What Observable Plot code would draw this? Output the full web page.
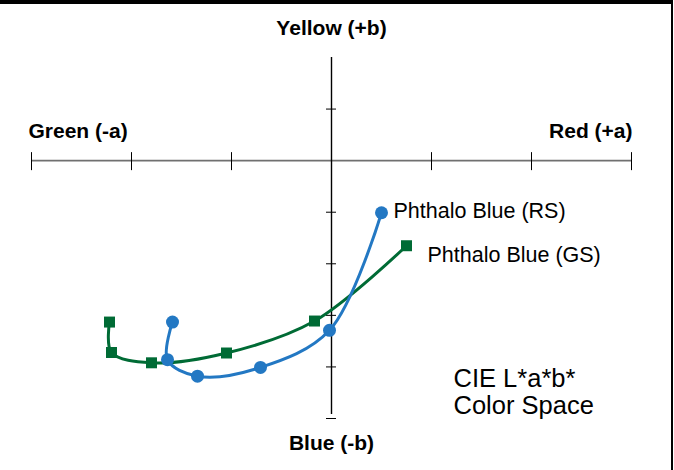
<!DOCTYPE html>
<html>
<head>
<meta charset="utf-8">
<script src="https://cdn.jsdelivr.net/npm/d3@7"></script>
<script src="https://cdn.jsdelivr.net/npm/@observablehq/plot@0.6"></script>
<style>
  html, body { margin: 0; padding: 0; background: #fff; }
  #wrap { position: relative; width: 674px; height: 470px; overflow: hidden; }
  #frame { position: absolute; left: 0; top: 0; width: 673px; height: 470px; box-sizing: border-box;
           border-top: 4px solid #000; border-right: 2px solid #000; pointer-events: none; }
  #chart { position: absolute; left: 0; top: 0; }
</style>
</head>
<body>
<div id="wrap"><div id="chart"></div><div id="frame"></div></div>
<script>
// a* (green-red) and b* (blue-yellow) values, in axis units
const seriesNames = ["Phthalo Blue (RS)", "Phthalo Blue (GS)"];
const rsA = [0.50, -0.02, -0.71, -1.34, -1.64, -1.59];
const rsB = [-1.01, -3.29, -4.01, -4.18, -3.86, -3.13];
const gsA = [0.75, -0.17, -1.05, -1.80, -2.20, -2.22];
const gsB = [-1.65, -3.11, -3.73, -3.92, -3.72, -3.13];
const aTicks = [-3, -2, -1, 0, 1, 2, 3];
const bTicks = [1, -1, -2, -3, -4, -5];
const axisLabels = { top: "Yellow (+b)", left: "Green (-a)", right: "Red (+a)", bottom: "Blue (-b)" };
const noteText = "CIE L*a*b*\nColor Space";

const blue = "#2378c3";
const green = "#006b35";
const rs = rsA.map((a, i) => ({a, b: rsB[i]}));
const gs = gsA.map((a, i) => ({a, b: gsB[i]}));
const font = "Liberation Sans, Arial, sans-serif";

const chart = Plot.plot({
  width: 674,
  height: 470,
  marginLeft: 31,
  marginRight: 43,
  marginTop: 57,
  marginBottom: 52,
  x: {domain: [-3, 3], axis: null},
  y: {domain: [-5, 2], axis: null},
  style: {fontFamily: font, background: "transparent"},
  marks: [
    // horizontal axis
    Plot.ruleY([0], {x1: -3, x2: 3, stroke: "#707070", strokeWidth: 1.6}),
    Plot.ruleX(aTicks, {x: d => d, y1: 0, y2: 0, insetTop: -8, insetBottom: -10, stroke: "#000", strokeWidth: 1}),
    // vertical axis
    Plot.ruleX([0], {y1: -5, y2: 2, insetTop: -4, stroke: "#000", strokeWidth: 1.4}),
    Plot.ruleY(bTicks, {y: d => d, x1: 0, x2: 0, insetLeft: -5, insetRight: -5, stroke: "#000", strokeWidth: 1}),
    // series
    Plot.line(gs, {x: "a", y: "b", curve: "catmull-rom", stroke: green, strokeWidth: 3}),
    Plot.line(rs, {x: "a", y: "b", curve: "catmull-rom", stroke: blue, strokeWidth: 3}),
    Plot.dot(gs, {x: "a", y: "b", symbol: "square", r: 6.2, fill: green}),
    Plot.dot(rs, {x: "a", y: "b", symbol: "circle", r: 6.5, fill: blue}),
    // series labels
    Plot.text([rs[0]], {x: "a", y: "b", text: () => seriesNames[0], textAnchor: "start", dx: 12, dy: -2, fontSize: 21.5, fill: "#000"}),
    Plot.text([gs[0]], {x: "a", y: "b", text: () => seriesNames[1], textAnchor: "start", dx: 21, dy: 9, fontSize: 21.5, fill: "#000"}),
    // axis labels
    Plot.text([axisLabels.top], {x: 0, frameAnchor: "top", lineAnchor: "middle", dy: -29, fontSize: 21, fontWeight: "bold", fill: "#000"}),
    Plot.text([axisLabels.left], {x: -3, y: 0, textAnchor: "start", dx: -3, dy: -29, fontSize: 21, fontWeight: "bold", fill: "#000"}),
    Plot.text([axisLabels.right], {x: 3, y: 0, textAnchor: "end", dx: 1, dy: -29, fontSize: 21, fontWeight: "bold", fill: "#000"}),
    Plot.text([axisLabels.bottom], {x: 0, frameAnchor: "bottom", lineAnchor: "middle", dy: 25, fontSize: 21, fontWeight: "bold", fill: "#000"}),
    // note
    Plot.text([noteText], {frameAnchor: "bottom-right", textAnchor: "start", lineAnchor: "middle", dx: -178, dy: -27, fontSize: 25.5, lineHeight: 1.06, fill: "#000"})
  ]
});
document.getElementById("chart").appendChild(chart);
</script>
</body>
</html>
